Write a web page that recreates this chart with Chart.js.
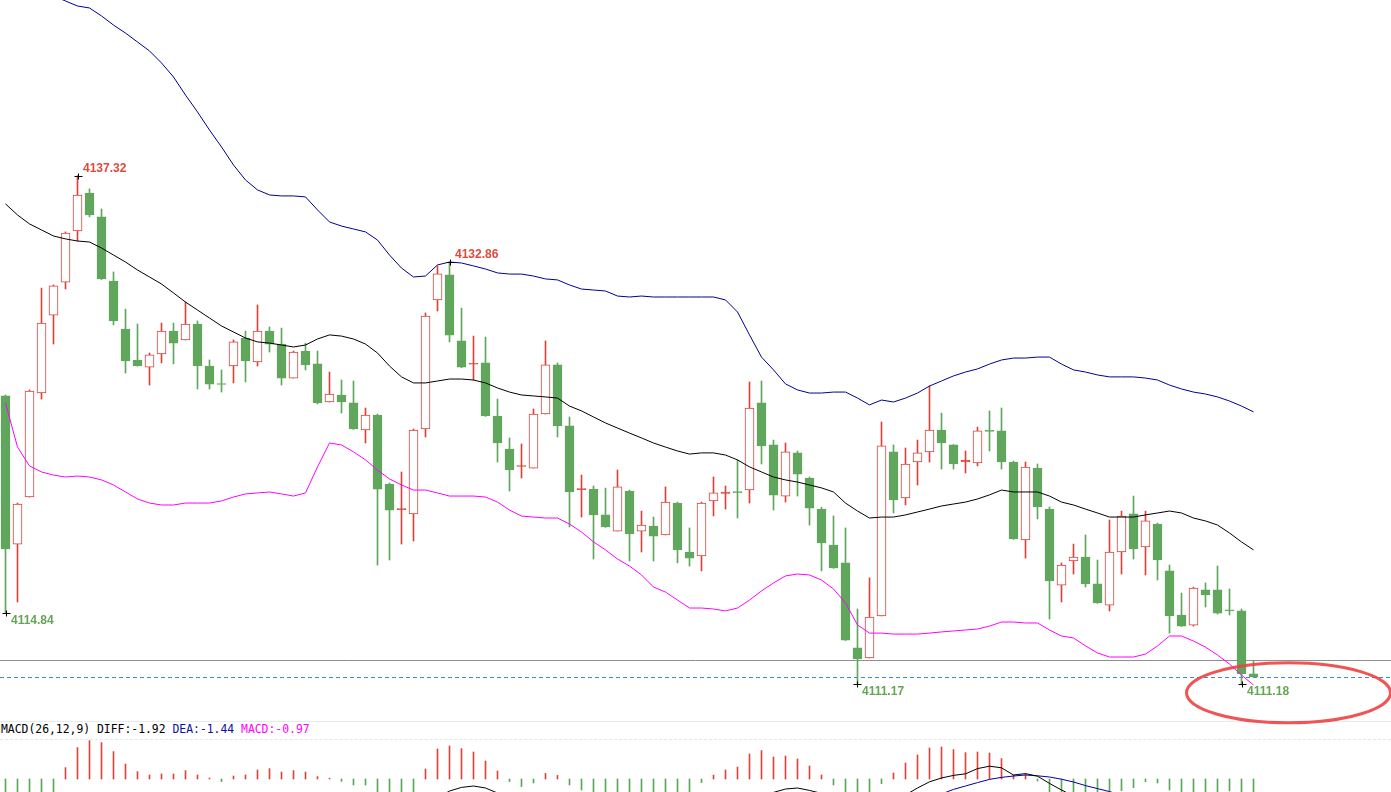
<!DOCTYPE html>
<html>
<head>
<meta charset="utf-8">
<title>K线 BOLL MACD</title>
<script src="https://cdn.jsdelivr.net/npm/chart.js@4"></script>
<style>
  html, body { margin: 0; padding: 0; background: #fff; overflow: hidden; }
  #wrap { position: relative; width: 1391px; height: 792px; }
  #priceChart { position: absolute; left: 0; top: 0; z-index: 2; }
  #macdChart { position: absolute; left: 0; top: 740px; z-index: 2; }
  .sep { position: absolute; left: 0; width: 1391px; height: 0; z-index: 1; }
  #sep1 { top: 721px; border-top: 1px solid #e2ecec; }
  #sep2 { top: 739px; border-top: 1px dashed #e6e6e6; }
  #macdText { position: absolute; left: 1px; top: 722px; z-index: 1;
    font: 11.4px "DejaVu Sans Mono", "Liberation Mono", monospace; line-height: 15px; white-space: pre; }
</style>
</head>
<body>
<div id="wrap">
  <div class="sep" id="sep1"></div>
  <div id="macdText"><span style="color:#000">MACD(26,12,9) DIFF:-1.92 </span><span style="color:#1010a0">DEA:-1.44 </span><span style="color:#ff00ff">MACD:-0.97</span></div>
  <div class="sep" id="sep2"></div>
  <canvas id="priceChart" width="1391" height="740"></canvas>
  <canvas id="macdChart" width="1391" height="52"></canvas>
</div>
<script>
// candles
const opens = [4125.99,4118.37,4120.79,4126.14,4130.15,4131.85,4134.48,4136.43,4135.20,4131.90,
  4129.43,4127.84,4127.47,4128.15,4129.33,4128.87,4129.69,4127.53,4126.61,4127.53,
  4128.97,4127.74,4129.33,4128.66,4126.91,4128.30,4127.64,4125.68,4126.04,4125.63,
  4124.24,4125.01,4121.46,4120.14,4119.92,4124.29,4130.93,4132.22,4128.82,4127.62,
  4127.69,4124.96,4123.26,4122.36,4122.28,4125.06,4127.59,4124.45,4121.17,4121.20,
  4119.87,4119.04,4121.10,4119.04,4119.30,4118.84,4120.48,4117.96,4117.76,4120.59,
  4120.97,4121.05,4121.15,4125.63,4123.47,4120.84,4123.06,4121.77,4120.17,4118.32,
  4117.40,4113.03,4112.51,4114.67,4123.11,4120.74,4122.59,4123.11,4124.24,4123.47,
  4122.59,4122.54,4124.24,4124.19,4122.59,4118.58,4122.28,4120.17,4116.26,4117.50,
  4117.70,4116.32,4115.23,4117.96,4119.92,4118.22,4119.40,4116.99,4114.72,4114.20,
  4116.01,4116.01,4114.98,4114.93,4111.69];
const highs = [4126.04,4120.48,4126.30,4131.54,4131.70,4134.43,4137.32,4136.64,4135.61,4132.37,
  4130.46,4129.69,4128.20,4129.74,4129.74,4130.82,4129.85,4127.84,4127.33,4128.87,
  4129.33,4130.67,4129.54,4129.48,4128.30,4128.71,4128.30,4127.22,4126.81,4126.76,
  4125.37,4125.06,4121.51,4122.08,4124.29,4130.26,4132.68,4132.86,4130.51,4129.07,
  4129.02,4125.83,4123.83,4123.52,4125.32,4128.82,4127.69,4124.91,4121.92,4121.36,
  4121.25,4122.18,4121.15,4120.07,4119.76,4121.31,4120.53,4119.20,4120.53,4121.82,
  4121.36,4122.69,4126.71,4126.76,4123.72,4123.57,4123.16,4121.82,4120.27,4119.82,
  4119.20,4115.03,4116.63,4124.65,4123.47,4123.31,4123.72,4126.50,4125.11,4123.49,
  4123.16,4124.39,4125.22,4125.37,4122.64,4122.59,4122.49,4120.28,4117.40,4118.37,
  4118.84,4117.55,4119.61,4120.07,4120.84,4120.07,4119.45,4117.29,4115.85,4116.16,
  4116.37,4117.24,4116.06,4115.03,4112.35];
const lows = [4114.84,4115.39,4120.79,4125.83,4128.66,4131.49,4133.96,4135.20,4131.98,4129.64,
  4127.17,4127.52,4126.55,4127.69,4127.64,4128.87,4126.35,4126.35,4126.19,4126.66,
  4126.71,4127.53,4128.25,4126.55,4126.91,4127.33,4125.58,4125.68,4125.11,4124.27,
  4123.57,4117.29,4117.55,4118.37,4118.53,4123.88,4130.36,4128.77,4127.45,4126.81,
  4124.94,4122.59,4121.10,4121.77,4122.28,4125.06,4123.88,4119.25,4119.76,4117.60,
  4119.23,4119.04,4117.50,4117.96,4117.50,4118.84,4117.40,4117.24,4116.99,4119.82,
  4120.17,4119.71,4120.48,4122.49,4120.12,4120.53,4120.84,4119.35,4116.99,4117.12,
  4113.41,4111.17,4112.51,4114.67,4119.97,4120.38,4121.41,4122.59,4122.23,4122.23,
  4122.03,4122.39,4123.16,4122.23,4118.61,4117.65,4119.66,4114.51,4115.39,4116.83,
  4116.16,4115.32,4114.93,4116.83,4117.60,4116.78,4116.52,4113.79,4114.13,4114.15,
  4115.13,4114.77,4114.72,4111.18,4111.51];
const closes = [4118.12,4120.43,4126.24,4129.74,4131.65,4134.37,4136.33,4135.30,4132.01,4129.85,
  4127.79,4127.55,4128.10,4129.33,4128.71,4129.69,4127.53,4126.60,4126.58,4128.77,
  4127.79,4129.33,4128.66,4126.91,4128.25,4127.59,4125.63,4126.09,4125.68,4124.29,
  4125.01,4121.20,4120.12,4120.17,4124.24,4130.10,4132.27,4129.12,4127.47,4127.64,
  4124.96,4123.57,4122.18,4122.39,4125.06,4127.59,4124.45,4121.05,4121.20,4119.87,
  4119.25,4121.31,4118.89,4119.35,4118.78,4120.53,4118.07,4117.65,4120.48,4121.00,
  4121.05,4121.02,4125.37,4123.42,4120.89,4123.11,4121.97,4120.22,4118.43,4117.14,
  4113.43,4112.46,4114.62,4123.42,4120.64,4122.49,4123.06,4124.24,4123.57,4122.49,
  4122.69,4124.19,4124.16,4122.59,4118.63,4122.33,4120.28,4116.47,4117.29,4117.70,
  4116.32,4115.34,4117.96,4119.81,4118.12,4119.56,4117.55,4114.67,4114.15,4116.11,
  4115.75,4114.82,4114.93,4111.69,4111.53];

// BOLL bands
const bollUpper = [4146.77,4147.23,4147.29,4146.98,4146.57,4146.31,4146.05,4145.95,4145.54,4145.07,
  4144.66,4144.20,4143.74,4143.12,4142.40,4141.47,4140.60,4139.67,4138.80,4137.87,
  4137.10,4136.59,4136.33,4136.28,4136.28,4136.23,4135.56,4134.94,4134.73,4134.58,
  4134.43,4134.01,4133.24,4132.57,4132.11,4132.16,4132.73,4132.88,4132.83,4132.68,
  4132.52,4132.32,4132.26,4132.26,4132.16,4132.01,4131.96,4131.70,4131.49,4131.44,
  4131.39,4131.13,4131.08,4131.13,4131.08,4131.08,4131.08,4131.08,4131.08,4131.08,
  4130.93,4130.31,4129.13,4127.99,4127.33,4126.61,4126.30,4126.14,4126.14,4126.19,
  4126.19,4125.88,4125.53,4125.78,4125.68,4125.88,4126.14,4126.50,4126.76,4127.02,
  4127.22,4127.38,4127.63,4127.84,4127.94,4127.94,4127.99,4127.99,4127.63,4127.33,
  4127.22,4127.07,4126.97,4126.97,4126.97,4126.91,4126.81,4126.55,4126.35,4126.19,
  4126.09,4125.94,4125.73,4125.47,4125.17];
const bollMid = [4135.87,4135.30,4134.84,4134.53,4134.22,4134.07,4133.96,4133.91,4133.60,4133.24,
  4132.88,4132.47,4132.11,4131.75,4131.29,4130.82,4130.41,4130.00,4129.59,4129.28,
  4128.97,4128.77,4128.71,4128.61,4128.51,4128.61,4128.92,4129.13,4129.07,4128.92,
  4128.66,4128.20,4127.53,4126.97,4126.66,4126.66,4126.76,4126.86,4126.86,4126.81,
  4126.66,4126.40,4126.19,4126.04,4125.99,4125.94,4125.88,4125.47,4125.22,4124.91,
  4124.60,4124.34,4124.08,4123.83,4123.57,4123.36,4123.16,4123.00,4123.06,4123.06,
  4122.95,4122.70,4122.34,4122.08,4121.82,4121.67,4121.56,4121.41,4121.26,4121.05,
  4120.48,4120.07,4119.71,4119.76,4119.76,4119.87,4120.02,4120.17,4120.33,4120.43,
  4120.53,4120.69,4120.90,4121.15,4121.05,4121.05,4121.05,4120.84,4120.53,4120.38,
  4120.17,4119.97,4119.76,4119.76,4119.76,4119.87,4119.97,4120.07,4119.97,4119.71,
  4119.56,4119.35,4118.94,4118.48,4118.07];
const bollLower = [4125.63,4123.36,4122.39,4122.08,4121.92,4121.82,4121.87,4121.82,4121.67,4121.41,
  4121.05,4120.69,4120.48,4120.38,4120.38,4120.48,4120.48,4120.48,4120.59,4120.79,
  4120.95,4121.00,4121.05,4120.95,4120.84,4121.00,4122.34,4123.57,4123.47,4123.11,
  4122.70,4122.18,4121.72,4121.41,4121.15,4121.15,4121.00,4120.84,4120.84,4120.84,
  4120.79,4120.53,4120.12,4119.81,4119.76,4119.71,4119.71,4119.40,4118.99,4118.48,
  4118.07,4117.60,4117.24,4116.78,4116.16,4115.90,4115.49,4115.08,4115.08,4115.03,
  4114.93,4115.08,4115.49,4115.96,4116.37,4116.73,4116.83,4116.78,4116.52,4116.06,
  4115.34,4114.21,4113.79,4113.79,4113.74,4113.74,4113.74,4113.79,4113.85,4113.90,
  4113.95,4114.00,4114.15,4114.36,4114.36,4114.31,4114.31,4113.95,4113.64,4113.54,
  4113.13,4112.77,4112.56,4112.56,4112.56,4112.71,4113.13,4113.64,4113.64,4113.38,
  4113.07,4112.66,4112.20,4111.63,4111.12];

// MACD(26,12,9)
const macdHist = [-1.2,-1.1,-0.95,-0.8,-0.7,0.57,1.57,1.92,1.82,1.37,
  0.75,0.37,0.2,0.25,0.25,0.42,0.2,0.05,-0.13,0.15,
  0.2,0.45,0.52,0.35,0.42,0.35,0.12,0.04,-0.12,-0.3,
  -0.3,-0.75,-0.95,-1.0,-0.9,0.5,1.5,1.65,1.52,1.35,
  0.9,0.4,-0.13,-0.38,-0.2,0.28,0.18,-0.3,-0.55,-0.8,
  -0.9,-0.95,-1.0,-1.0,-1.05,-1.0,-1.0,-0.9,-0.18,0.2,
  0.45,0.6,1.25,1.42,1.1,1.15,1.0,0.65,0.2,-0.3,
  -0.8,-1.2,-0.9,-0.23,0.3,0.8,1.2,1.55,1.6,1.47,
  1.32,1.35,1.3,1.02,0.2,0.25,-0.1,-0.7,-1.1,-1.3,
  -1.35,-1.3,-1.2,-0.58,-0.43,-0.13,-0.2,-0.55,-0.7,-0.75,
  -0.8,-0.7,-0.6,-0.85,-0.97];
const macdDiff = [-2.2,-2.0,-1.7,-1.4,-1.15,-0.95,-0.85,-0.8,-0.85,-0.95,
  -1.1,-1.2,-1.25,-1.25,-1.25,-1.2,-1.2,-1.25,-1.3,-1.3,
  -1.3,-1.2,-1.15,-1.15,-1.1,-1.1,-1.15,-1.2,-1.3,-1.4,
  -1.5,-1.75,-1.95,-2.1,-2.1,-1.6,-0.95,-0.6,-0.42,-0.35,
  -0.45,-0.7,-0.95,-1.1,-1.1,-1.0,-1.0,-1.15,-1.3,-1.5,
  -1.65,-1.75,-1.85,-1.95,-2.05,-2.1,-2.15,-2.15,-1.95,-1.75,
  -1.55,-1.35,-1.0,-0.75,-0.67,-0.5,-0.45,-0.57,-0.72,-0.95,
  -1.3,-1.7,-1.75,-1.45,-1.1,-0.8,-0.45,-0.14,0.05,0.18,
  0.26,0.52,0.64,0.56,0.2,0.27,0.14,-0.22,-0.55,-0.85,
  -1.1,-1.3,-1.45,-1.35,-1.3,-1.2,-1.25,-1.45,-1.6,-1.7,
  -1.75,-1.75,-1.75,-1.85,-1.92];
const macdDea = [-1.6,-1.45,-1.22,-1.0,-0.8,-1.23,-1.63,-1.76,-1.76,-1.63,
  -1.47,-1.38,-1.35,-1.37,-1.37,-1.41,-1.3,-1.27,-1.24,-1.37,
  -1.4,-1.42,-1.41,-1.32,-1.31,-1.27,-1.21,-1.22,-1.24,-1.25,
  -1.35,-1.37,-1.47,-1.6,-1.65,-1.85,-1.7,-1.42,-1.18,-1.02,
  -0.9,-0.9,-0.88,-0.91,-1.0,-1.14,-1.09,-1.0,-1.02,-1.1,
  -1.2,-1.27,-1.35,-1.45,-1.52,-1.6,-1.65,-1.7,-1.86,-1.85,
  -1.77,-1.65,-1.62,-1.46,-1.22,-1.07,-0.95,-0.87,-0.82,-0.8,
  -0.9,-1.1,-1.3,-1.33,-1.25,-1.2,-1.05,-0.92,-0.75,-0.52,
  -0.35,-0.18,-0.02,0.08,0.15,0.2,0.16,0.1,-0.01,-0.15,
  -0.33,-0.48,-0.63,-0.8,-0.9,-1.0,-1.05,-1.1,-1.2,-1.25,
  -1.3,-1.35,-1.38,-1.4,-1.44];

// marked extremes and reference level
const markIdx = [6, 37, 0, 71, 103];
const markKind = ['high', 'high', 'low', 'low', 'low'];
const refLevel = 4112.41;

const RED = '#d9433b';
const GREEN = '#60a65d';
const PX_PER_UNIT = 19.438;

Chart.defaults.animation = false;
Chart.defaults.devicePixelRatio = 1;

// x axis: one candle every 12 px, first candle at 5.5 px
const xMin = -5.5 / 12;
const xMax = xMin + 1391 / 12;

const isUp = closes.map((c, i) => c > opens[i]);
const candleColor = isUp.map(u => u ? RED : GREEN);
const bodyFill = closes.map((c, i) => {
  if (!isUp[i]) return GREEN;
  return (c - opens[i]) * PX_PER_UNIT > 2.5 ? '#ffffff' : RED;
});

const lineSet = (data, color) => ({
  type: 'line',
  data: data.map((v, i) => ({ x: i, y: v })),
  borderColor: color,
  borderWidth: 1,
  pointRadius: 0,
  tension: 0,
  order: 0
});

const overlay = {
  id: 'overlay',
  beforeDatasetsDraw(chart) {
    const { ctx, scales: { y } } = chart;
    ctx.save();
    ctx.lineWidth = 1;
    let py = Math.round(y.getPixelForValue(refLevel)) + 0.5;
    ctx.strokeStyle = '#8f8f8f';
    ctx.beginPath(); ctx.moveTo(0, py); ctx.lineTo(chart.width, py); ctx.stroke();
    py = Math.round(y.getPixelForValue(closes[closes.length - 1])) + 0.5;
    ctx.strokeStyle = '#3a88d6';
    ctx.setLineDash([4, 3]);
    ctx.beginPath(); ctx.moveTo(0, py); ctx.lineTo(chart.width, py); ctx.stroke();
    ctx.restore();
  },
  afterDatasetsDraw(chart) {
    const { ctx, scales: { x, y } } = chart;
    ctx.save();

    // red ellipse round the last low
    const last = markIdx[markIdx.length - 1];
    const ex = x.getPixelForValue(last) + 47;
    const ey = y.getPixelForValue(lows[last]) + 9;
    ctx.strokeStyle = 'rgba(238,66,66,0.9)';
    ctx.lineWidth = 3;
    ctx.beginPath();
    ctx.ellipse(ex, ey, 102, 30, 0, 0, Math.PI * 2);
    ctx.stroke();

    ctx.font = 'bold 12px "Liberation Sans", Arial, sans-serif';
    ctx.textBaseline = 'middle';
    ctx.textAlign = 'left';
    markIdx.forEach((i, k) => {
      const high = markKind[k] === 'high';
      const val = high ? highs[i] : lows[i];
      const px = Math.round(x.getPixelForValue(i)) + 0.5;
      const py = Math.round(y.getPixelForValue(val)) + 0.5;
      ctx.strokeStyle = '#000';
      ctx.lineWidth = 1;
      ctx.beginPath();
      ctx.moveTo(px - 4, py); ctx.lineTo(px + 4, py);
      ctx.moveTo(px, py - 3); ctx.lineTo(px, py + 3);
      ctx.stroke();
      ctx.fillStyle = high ? '#e0483c' : '#66a556';
      ctx.fillText(val.toFixed(2), px + 4.5, high ? py - 8 : py + 7);
    });
    ctx.restore();
  }
};

new Chart(document.getElementById('priceChart'), {
  type: 'bar',
  data: {
    datasets: [
      lineSet(bollUpper, '#00008e'),
      lineSet(bollMid, '#000000'),
      lineSet(bollLower, '#ff00ff'),
      {
        data: opens.map((o, i) => ({ x: i, y: [o, closes[i]] })),
        backgroundColor: bodyFill,
        borderColor: candleColor,
        borderWidth: 1,
        borderSkipped: false,
        barThickness: 9,
        minBarLength: 1,
        grouped: false,
        order: 1
      },
      {
        data: lows.map((l, i) => ({ x: i, y: [l, highs[i]] })),
        backgroundColor: candleColor,
        borderWidth: 0,
        barThickness: 1,
        grouped: false,
        order: 2
      }
    ]
  },
  options: {
    responsive: false,
    events: [],
    layout: { padding: 0 },
    plugins: { legend: { display: false }, tooltip: { enabled: false } },
    scales: {
      x: { type: 'linear', min: xMin, max: xMax, offset: false, display: false },
      y: { type: 'linear', min: 4146.36 - 740 / PX_PER_UNIT, max: 4146.36, display: false }
    }
  },
  plugins: [overlay]
});

new Chart(document.getElementById('macdChart'), {
  type: 'bar',
  data: {
    datasets: [
      lineSet(macdDiff, '#000000'),
      lineSet(macdDea, '#00009c'),
      {
        data: macdHist.map((v, i) => ({ x: i, y: v })),
        backgroundColor: macdHist.map(v => v >= 0 ? '#e0453c' : '#5aa857'),
        borderWidth: 0,
        barThickness: 1,
        grouped: false,
        order: 1
      }
    ]
  },
  options: {
    responsive: false,
    events: [],
    layout: { padding: 0 },
    plugins: { legend: { display: false }, tooltip: { enabled: false } },
    scales: {
      x: { type: 'linear', min: xMin, max: xMax, offset: false, display: false },
      y: { type: 'linear', min: -0.65, max: 1.95, display: false }
    }
  }
});
</script>
</body>
</html>
